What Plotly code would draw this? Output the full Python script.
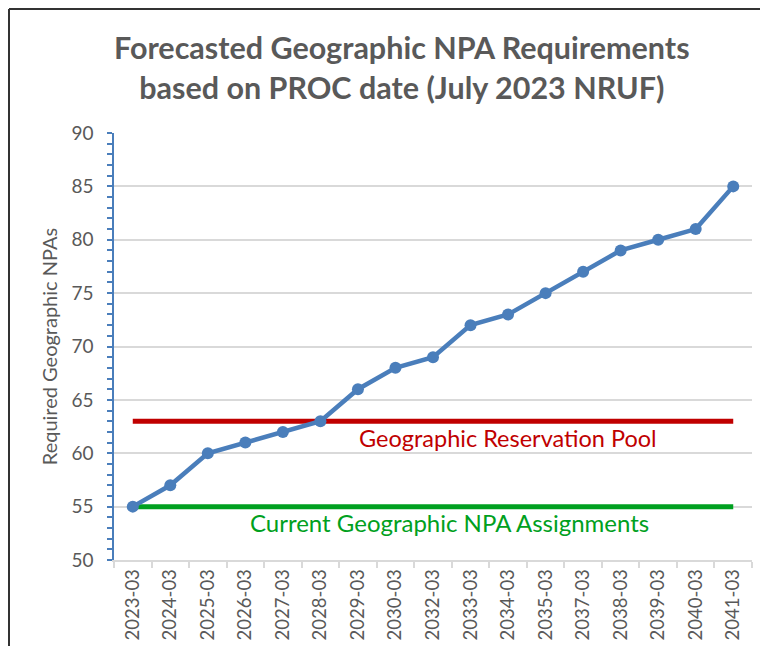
import plotly.graph_objects as go

categories = ["2023-03", "2024-03", "2025-03", "2026-03", "2027-03", "2028-03",
              "2029-03", "2030-03", "2032-03", "2033-03", "2034-03", "2035-03",
              "2037-03", "2038-03", "2039-03", "2040-03", "2041-03"]
required = [55, 57, 60, 61, 62, 63, 66, 68, 69, 72, 73, 75, 77, 79, 80, 81, 85]
reservation_pool = [63] * len(categories)
current_assignments = [55] * len(categories)

FONT = "Lato"
GREY = "#595959"
BLUE = "#4a7ebb"
RED = "#c00000"
GREEN = "#00a020"

# page has an 8px body margin; figure coords = screen coords - 8
OFF = 8
W, H = 752, 638
L, R, T, B = 106, 8, 125, 86
pw, ph = W - L - R, H - T - B


def px(xs):
    return (xs - OFF - L) / pw


def py(ys):
    return (H - B - (ys - OFF)) / ph


fig = go.Figure()
fig.add_trace(go.Scatter(x=categories, y=reservation_pool, mode="lines",
                         line=dict(color=RED, width=5), hoverinfo="skip"))
fig.add_trace(go.Scatter(x=categories, y=current_assignments, mode="lines",
                         line=dict(color=GREEN, width=5), hoverinfo="skip"))
fig.add_trace(go.Scatter(x=categories, y=required, mode="lines+markers",
                         line=dict(color=BLUE, width=4.5),
                         marker=dict(color=BLUE, size=12)))

fig.add_annotation(x=10, y=61.43, xref="x", yref="y", text="Geographic Reservation Pool",
                   showarrow=False, xanchor="center", yanchor="middle",
                   font=dict(family=FONT, size=23.5, color=RED))
fig.add_annotation(x=8.45, y=53.47, xref="x", yref="y", text="Current Geographic NPA Assignments",
                   showarrow=False, xanchor="center", yanchor="middle",
                   font=dict(family=FONT, size=24, color=GREEN))

fig.add_annotation(x=px(402), y=py(67), xref="paper", yref="paper",
                   xanchor="center", yanchor="middle",
                   text="<b>Forecasted Geographic NPA Requirements<br>based on PROC date (July 2023 NRUF)</b>",
                   showarrow=False, font=dict(family=FONT, size=30.5, color=GREY),
                   align="center")

# frame (left and top edges)
fig.add_shape(type="line", xref="paper", yref="paper", x0=px(9), x1=px(9), y0=py(9), y1=py(700),
              line=dict(color="#333333", width=2))
fig.add_shape(type="line", xref="paper", yref="paper", x0=px(9), x1=px(800), y0=py(9), y1=py(9),
              line=dict(color="#333333", width=2))

fig.update_layout(
    width=W, height=H,
    margin=dict(l=L, r=R, t=T, b=B, autoexpand=False),
    paper_bgcolor="white", plot_bgcolor="white",
    showlegend=False,
    font=dict(family=FONT, color=GREY),
    xaxis=dict(type="category", range=[-0.5, 16.5], tickangle=-90,
               tickson="boundaries", ticks="outside", ticklen=6, tickcolor="#d9d9d9",
               tickwidth=1.5,
               showline=True, linecolor="#d9d9d9", linewidth=1.5, showgrid=False,
               tickfont=dict(family=FONT, size=18.5, color=GREY)),
    yaxis=dict(range=[50, 90], dtick=5, ticks="outside", ticklen=5, tickcolor=BLUE,
               tickwidth=1.5,
               showline=True, linecolor=BLUE, linewidth=1.5,
               gridcolor="#d9d9d9", gridwidth=1.5, zeroline=False,
               ticklabelstandoff=10,
               tickfont=dict(family=FONT, size=19, color=GREY),
               minor=dict(dtick=1, ticks="outside", ticklen=5, tickcolor=BLUE,
                          tickwidth=1.5, showgrid=False),
               title=dict(text="Required Geographic NPAs", standoff=8,
                          font=dict(family=FONT, size=20, color=GREY))),
)

fig.write_html("out.html")
